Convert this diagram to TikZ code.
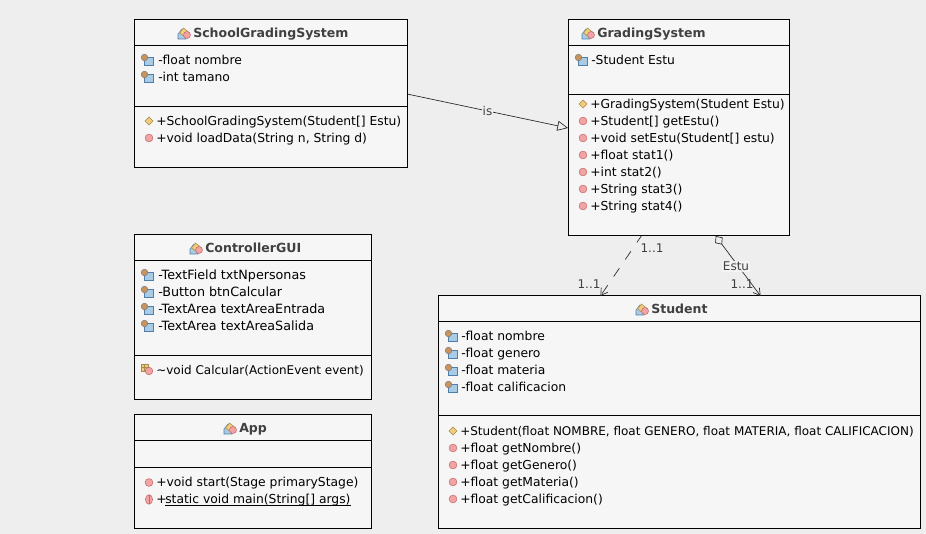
\documentclass[tikz,border=0pt]{standalone}
\usepackage{fontspec}
\setmainfont{DejaVu Sans}
\usetikzlibrary{arrows.meta,positioning}
\definecolor{pagebg}{HTML}{EEEEEE}
\definecolor{boxbg}{HTML}{F6F6F6}
\definecolor{fieldblue}{HTML}{A9CBE6}
\definecolor{fieldedge}{HTML}{4F7FA8}
\definecolor{lockbrown}{HTML}{C9935E}
\definecolor{methodred}{HTML}{F2A3A3}
\definecolor{methodedge}{HTML}{C46A6A}
\definecolor{ctoryellow}{HTML}{F0CC7C}
\definecolor{ctoredge}{HTML}{A98A46}
\tikzset{>=latex,
  classbox/.style={draw=black,fill=boxbg,line width=0.75pt,inner sep=0pt,outer sep=0pt},
  classname/.style={anchor=west,inner sep=0pt,text height=8pt,text depth=2pt,font=\fontsize{9.4pt}{11pt}\bfseries,text=black!75},
  member/.style={anchor=west,inner sep=0pt,text height=8pt,text depth=2pt,font=\fontsize{9.25pt}{11pt}\selectfont,text=black},
  guifield/.style={member,font=\fontsize{9.55pt}{11pt}\selectfont},
  divider/.style={line width=0.75pt},
  relation/.style={line width=0.5pt,black!85},
  rellabel/.style={inner sep=0.8pt,font=\fontsize{9pt}{11pt}\selectfont,text=black!75},
  fieldicon/.pic={
    \fill[fieldblue,draw=fieldedge,line width=0.4pt] (-3,-2.5) rectangle (6,5);
    \fill[lockbrown,draw=black!50,line width=0.4pt] (-2.5,-2.5) circle (3.3);
  },
  methodicon/.pic={
    \fill[methodred,draw=methodedge,line width=0.4pt] (0,0) circle (3.9);
  },
  ctoricon/.pic={
    \fill[ctoryellow,draw=ctoredge,line width=0.4pt] (-4,0) -- (0,-4) -- (4,0) -- (0,4) -- cycle;
  },
  staticicon/.pic={
    \fill[methodred,draw=methodedge,line width=0.4pt] (0,0) ellipse (3.6 and 4.8);
    \draw[methodedge,line width=0.3pt] (0,-4.8) -- (0,4.8);
  },
  packicon/.pic={
    \fill[ctoryellow,draw=ctoredge,line width=0.4pt] (-7,-6) rectangle (0,1);
    \draw[ctoredge,line width=0.3pt] (-7,-2.5) -- (0,-2.5) (-3.5,-6) -- (-3.5,1);
    \fill[methodred,draw=methodedge,line width=0.4pt] (1,1) circle (3.8);
  },
  classicon/.pic={
    \fill[fieldblue,draw=fieldedge,line width=0.4pt] (-5,6) -- (-5,1) -- (-1,-4) -- (3,6) -- cycle;
    \fill[ctoryellow,draw=ctoredge,line width=0.4pt] (-3.5,0) -- (0.5,-5) -- (6,-0.5) -- (2,4) -- cycle;
    \fill[methodred,draw=methodedge,line width=0.4pt] (4,2) circle (3.5);
  }
}
\begin{document}
\begin{tikzpicture}[x=0.75pt,y=-0.75pt]
\useasboundingbox[fill=pagebg] (0,-1) rectangle (926,533);

% boxes
\node[classbox,minimum width=204.75pt,minimum height=111pt] (school) at (270.5,93) {};
\node[classbox,minimum width=165.75pt,minimum height=162pt] (grading) at (678.5,127) {};
\node[classbox,minimum width=177.75pt,minimum height=123.75pt] (gui) at (252.5,316.5) {};
\node[classbox,minimum width=177.75pt,minimum height=85.5pt] (app) at (252.5,471) {};
\node[classbox,minimum width=361.5pt,minimum height=174.75pt] (student) at (679,411.5) {};

\draw[divider] (134,45) -- (407,45);
\draw[divider] (134,106) -- (407,106);
\draw[divider] (568,45) -- (789,45);
\draw[divider] (568,94) -- (789,94);
\draw[divider] (134,260) -- (371,260);
\draw[divider] (134,355) -- (371,355);
\draw[divider] (134,440) -- (371,440);
\draw[divider] (134,467) -- (371,467);
\draw[divider] (438,321) -- (920,321);
\draw[divider] (438,415) -- (920,415);

% SchoolGradingSystem
\pic at (183,32) {classicon};
\node[classname] (schooltitle) at (193,33) {SchoolGradingSystem};
\pic at (147,59) {fieldicon};
\node[member] (nombre) at (158,59.5) {-float nombre};
\pic at (147,76) {fieldicon};
\node[member] (tamano) at (158,76.5) {-int tamano};
\pic at (149,120) {ctoricon};
\node[member] (schoolctor) at (156,120.5) {+SchoolGradingSystem(Student[] Estu)};
\pic at (149,137) {methodicon};
\node[member] (loaddata) at (156,137.5) {+void loadData(String n, String d)};

% GradingSystem
\pic at (587,32) {classicon};
\node[classname] (gradingtitle) at (597,33) {GradingSystem};
\pic at (581,59) {fieldicon};
\node[member] (estu) at (591,59.5) {-Student Estu};
\pic at (583,103) {ctoricon};
\node[member] (gradingctor) at (590,103.5) {+GradingSystem(Student Estu)};
\pic at (583,120) {methodicon};
\node[member] (getestu) at (590,120.5) {+Student[] getEstu()};
\pic at (583,137) {methodicon};
\node[member] (setestu) at (590,137.5) {+void setEstu(Student[] estu)};
\pic at (583,154) {methodicon};
\node[member] (stata) at (590,154.5) {+float stat1()};
\pic at (583,171) {methodicon};
\node[member] (statb) at (590,171.5) {+int stat2()};
\pic at (583,188) {methodicon};
\node[member] (statc) at (590,188.5) {+String stat3()};
\pic at (583,205) {methodicon};
\node[member] (statd) at (590,205.5) {+String stat4()};

% ControllerGUI
\pic at (195,247) {classicon};
\node[classname] (guititle) at (205,248) {ControllerGUI};
\pic at (147,274) {fieldicon};
\node[guifield] (txtn) at (158,274.5) {-TextField txtNpersonas};
\pic at (147,291) {fieldicon};
\node[guifield] (btn) at (158,291.5) {-Button btnCalcular};
\pic at (147,308) {fieldicon};
\node[guifield] (entrada) at (158,308.5) {-TextArea textAreaEntrada};
\pic at (147,325) {fieldicon};
\node[guifield] (salida) at (158,325.5) {-TextArea textAreaSalida};
\pic at (148,369) {packicon};
\node[member,font=\fontsize{9pt}{11pt}\selectfont] (calcular) at (156,369.5) {\textasciitilde void Calcular(ActionEvent event)};

% App
\pic at (229,427) {classicon};
\node[classname] (apptitle) at (239,428) {App};
\pic at (149,481.5) {methodicon};
\node[member] (start) at (156,481.5) {+void start(Stage primaryStage)};
\pic at (149,498.5) {staticicon};
\node[member] (main) at (156,498.5) {+\kern-1pt\underline{\smash{static void main(String[] args)}}};

% Student
\pic at (641,308) {classicon};
\node[classname] (studenttitle) at (651,309) {Student};
\pic at (451,335) {fieldicon};
\node[member] (snombre) at (461,335.5) {-float nombre};
\pic at (451,352) {fieldicon};
\node[member] (sgenero) at (461,352.5) {-float genero};
\pic at (451,369) {fieldicon};
\node[member] (smateria) at (461,369.5) {-float materia};
\pic at (451,386) {fieldicon};
\node[member] (scalif) at (461,386.5) {-float calificacion};
\pic at (453,430) {ctoricon};
\node[member,font=\fontsize{9pt}{11pt}\selectfont] (studentctor) at (460,430.5) {+Student(float NOMBRE, float GENERO, float MATERIA, float CALIFICACION)};
\pic at (453,447) {methodicon};
\node[member] (getnombre) at (460,447.5) {+float getNombre()};
\pic at (453,464) {methodicon};
\node[member] (getgenero) at (460,464.5) {+float getGenero()};
\pic at (453,481) {methodicon};
\node[member] (getmateria) at (460,481.5) {+float getMateria()};
\pic at (453,498) {methodicon};
\node[member] (getcalif) at (460,498.5) {+float getCalificacion()};

% relations
\draw[relation,-{Triangle[open,length=8pt,width=7.5pt,fill=pagebg]}] (school.east) to node[rellabel,fill=pagebg,pos=0.5] {is} (grading.west);
\draw[relation,dash pattern=on 7.5pt off 8pt,dash phase=1.7pt,->,>={Straight Barb[length=5pt,width=6pt]}] (grading.-109) to (student.124);
\draw[relation,{Diamond[open,length=8pt,width=7pt,fill=pagebg]}-{Straight Barb[length=5pt,width=6pt]}] (grading.-71) to (student.55);
\node[rellabel] (multa) at (652,247) {1..1};
\node[rellabel] (multb) at (589,283.5) {1..1};
\node[rellabel,fill=boxbg,fill opacity=0.8,text opacity=1] (estulabel) at (736,265.5) {Estu};
\node[rellabel] (multc) at (742,283.5) {1..1};
\end{tikzpicture}
\end{document}
